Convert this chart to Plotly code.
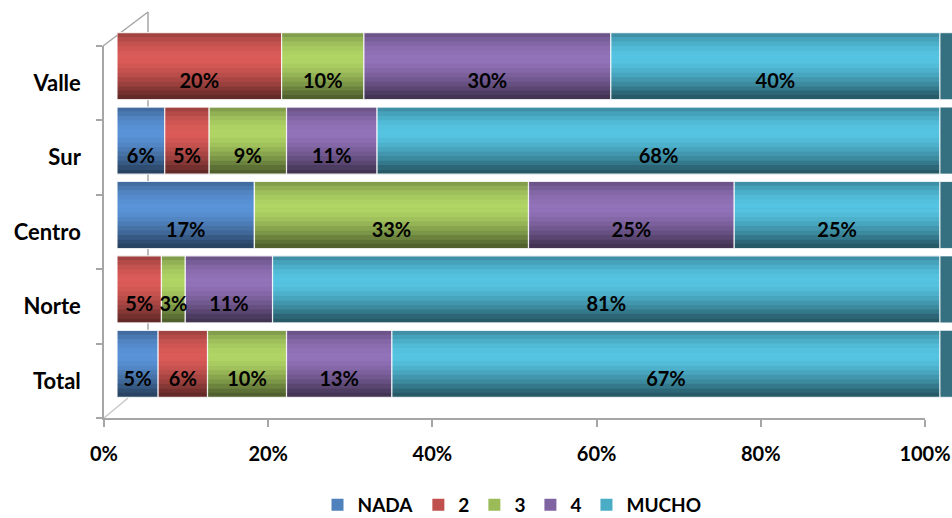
import plotly.graph_objects as go

# Survey regions, bottom to top as drawn on the category axis
regions = ["Total", "Norte", "Centro", "Sur", "Valle"]

# Share of answers per level (fractions of each region's total)
nada  = [0.050, 0.000, 0.167, 0.058, 0.000]
dos   = [0.060, 0.054, 0.000, 0.054, 0.200]
tres  = [0.096, 0.029, 0.333, 0.094, 0.100]
cuatro = [0.128, 0.106, 0.250, 0.110, 0.300]
mucho = [0.666, 0.811, 0.250, 0.684, 0.400]

series_names = ["NADA", "2", "3", "4", "MUCHO"]
series_values = [nada, dos, tres, cuatro, mucho]
series_colors = [(79, 129, 189), (192, 80, 77), (155, 187, 89), (128, 100, 162), (75, 172, 198)]

W, H = 952, 518
ML, MR, MT, MB = 100, 0, 20, 100
PW, PH = W - ML - MR, H - MT - MB


def px_x(p):
    return (p - ML) / PW


def px_y(p):
    return (H - MB - p) / PH


def rgb(c, f=1.0):
    r, g, b = (max(0, min(255, int(round(v * f)))) for v in c)
    return f"rgb({r},{g},{b})"


FONT = "Lato"
BAR_W = 0.9
# Cylinder shading: brightness of horizontal bands, top to bottom
shade = [0.84, 0.94, 1.02, 1.08, 1.12, 1.14, 1.13, 1.09, 1.03, 0.96,
         0.88, 0.80, 0.70, 0.60, 0.52]
band = BAR_W / len(shade)

fig = go.Figure()

starts = [[0.0] * len(regions)]
for vals in series_values[:-1]:
    starts.append([s + v for s, v in zip(starts[-1], vals)])
totals = [s + v for s, v in zip(starts[-1], series_values[-1])]

for name, vals, base, col in zip(series_names, series_values, starts, series_colors):
    # flat bar that carries the legend entry
    fig.add_trace(go.Bar(
        y=regions, x=vals, base=base, orientation="h", name=name,
        marker=dict(color=rgb(col), line=dict(width=0)), width=BAR_W,
        legendgroup=name, hoverinfo="skip", xaxis="x", yaxis="y"))
    # shaded bands giving the rounded look
    for k, f in enumerate(shade):
        top = BAR_W / 2 - k * band
        fig.add_trace(go.Bar(
            y=regions, x=vals, base=base, orientation="h", showlegend=False,
            marker=dict(color=rgb(col, f), line=dict(width=0)),
            width=band + 0.004, offset=top - band - 0.002,
            legendgroup=name, hoverinfo="skip", xaxis="x", yaxis="y"))
    # white outline of each segment
    fig.add_trace(go.Bar(
        y=regions, x=vals, base=base, orientation="h", showlegend=False,
        marker=dict(color="rgba(0,0,0,0)", line=dict(color="rgba(255,255,255,0.85)", width=1.2)),
        width=BAR_W, legendgroup=name, hoverinfo="skip", xaxis="x", yaxis="y"))

# dark end cap at the right end of every bar
cap = [0.022] * len(regions)
fig.add_trace(go.Bar(
    y=regions, x=cap, base=totals, orientation="h", showlegend=False,
    marker=dict(color="rgb(52,112,128)", line=dict(color="rgba(255,255,255,0.8)", width=1)),
    width=BAR_W, hoverinfo="skip", xaxis="x", yaxis="y"))

# invisible points so the front (tick) axes get their own subplot
fig.add_trace(go.Scatter(
    x=[0.0] * len(regions), y=regions, mode="markers", marker=dict(size=1, opacity=0),
    showlegend=False, hoverinfo="skip", xaxis="x2", yaxis="y2"))

# value labels at the middle of each segment
for vals, base in zip(series_values, starts):
    xs, ys, txt = [], [], []
    for r, v, b in zip(regions, vals, base):
        if v > 0:
            xs.append(b + v / 2)
            ys.append(r)
            txt.append(f"{v:.0%}")
    fig.add_trace(go.Scatter(
        x=xs, y=ys, text=txt, mode="text", showlegend=False, hoverinfo="skip",
        textfont=dict(family=FONT, size=20, color="black", weight="bold"),
        xaxis="x", yaxis="y2"))

AX = "#a6a6a6"
bar_x0, bar_x1 = 117, 940
tick_x0, tick_x1 = 104, 925
grid_top, grid_bot = 46, 418
dx, dy = 12, 17

fig.update_layout(
    width=W, height=H, margin=dict(l=ML, r=MR, t=MT, b=MB, autoexpand=False),
    paper_bgcolor="white", plot_bgcolor="rgba(0,0,0,0)",
    barmode="overlay", showlegend=True,
    font=dict(family=FONT, size=19, color="black", weight="bold"),
    xaxis=dict(domain=[px_x(bar_x0), 1.0], range=[0, (W - bar_x0) / (bar_x1 - bar_x0)],
               visible=False, anchor="y", fixedrange=True),
    yaxis=dict(domain=[px_y(grid_bot - dy), px_y(grid_top - dy)], type="category",
               categoryorder="array", categoryarray=regions, range=[-0.5, 4.5],
               visible=False, anchor="x", fixedrange=True),
    xaxis2=dict(domain=[px_x(tick_x0), px_x(tick_x1)], range=[0, 1], anchor="y2",
                tickvals=[0, 0.2, 0.4, 0.6, 0.8, 1.0], tickformat=".0%",
                showline=True, linecolor=AX, linewidth=1.5, ticks="outside",
                ticklen=7, tickcolor=AX, tickwidth=1.5, showgrid=False, zeroline=False,
                ticklabelstandoff=10,
                tickfont=dict(family=FONT, size=20, color="black", weight="bold"),
                automargin=False, fixedrange=True),
    yaxis2=dict(domain=[0, px_y(grid_top)], type="category", categoryorder="array",
                categoryarray=regions, range=[-0.5, 4.5], anchor="x2",
                showline=True, linecolor=AX, linewidth=1.5, ticks="outside",
                tickson="boundaries", ticklen=6, tickcolor=AX, tickwidth=1.5,
                showgrid=False, zeroline=False, ticklabelstandoff=17,
                tickfont=dict(family=FONT, size=22, color="black", weight="bold"),
                automargin=False, fixedrange=True),
    legend=dict(orientation="h", x=px_x(512), xanchor="center", y=px_y(505), yanchor="middle",
                font=dict(family=FONT, size=19, color="black", weight="bold"),
                traceorder="normal", itemwidth=30, bgcolor="rgba(0,0,0,0)"),
    shapes=[
        # back wall edges of the 3-D frame
        dict(type="line", xref="paper", yref="paper", layer="below",
             x0=px_x(tick_x0 - 1), y0=px_y(grid_top), x1=px_x(148), y1=px_y(12),
             line=dict(color=AX, width=1.5)),
        dict(type="line", xref="paper", yref="paper", layer="below",
             x0=px_x(148), y0=px_y(12), x1=px_x(148), y1=px_y(398),
             line=dict(color=AX, width=1.5)),
        dict(type="line", xref="paper", yref="paper", layer="below",
             x0=px_x(tick_x0), y0=px_y(grid_bot), x1=px_x(128), y1=px_y(398),
             line=dict(color="#c8c8c8", width=1.5)),
    ],
)

fig.write_html("out.html")
